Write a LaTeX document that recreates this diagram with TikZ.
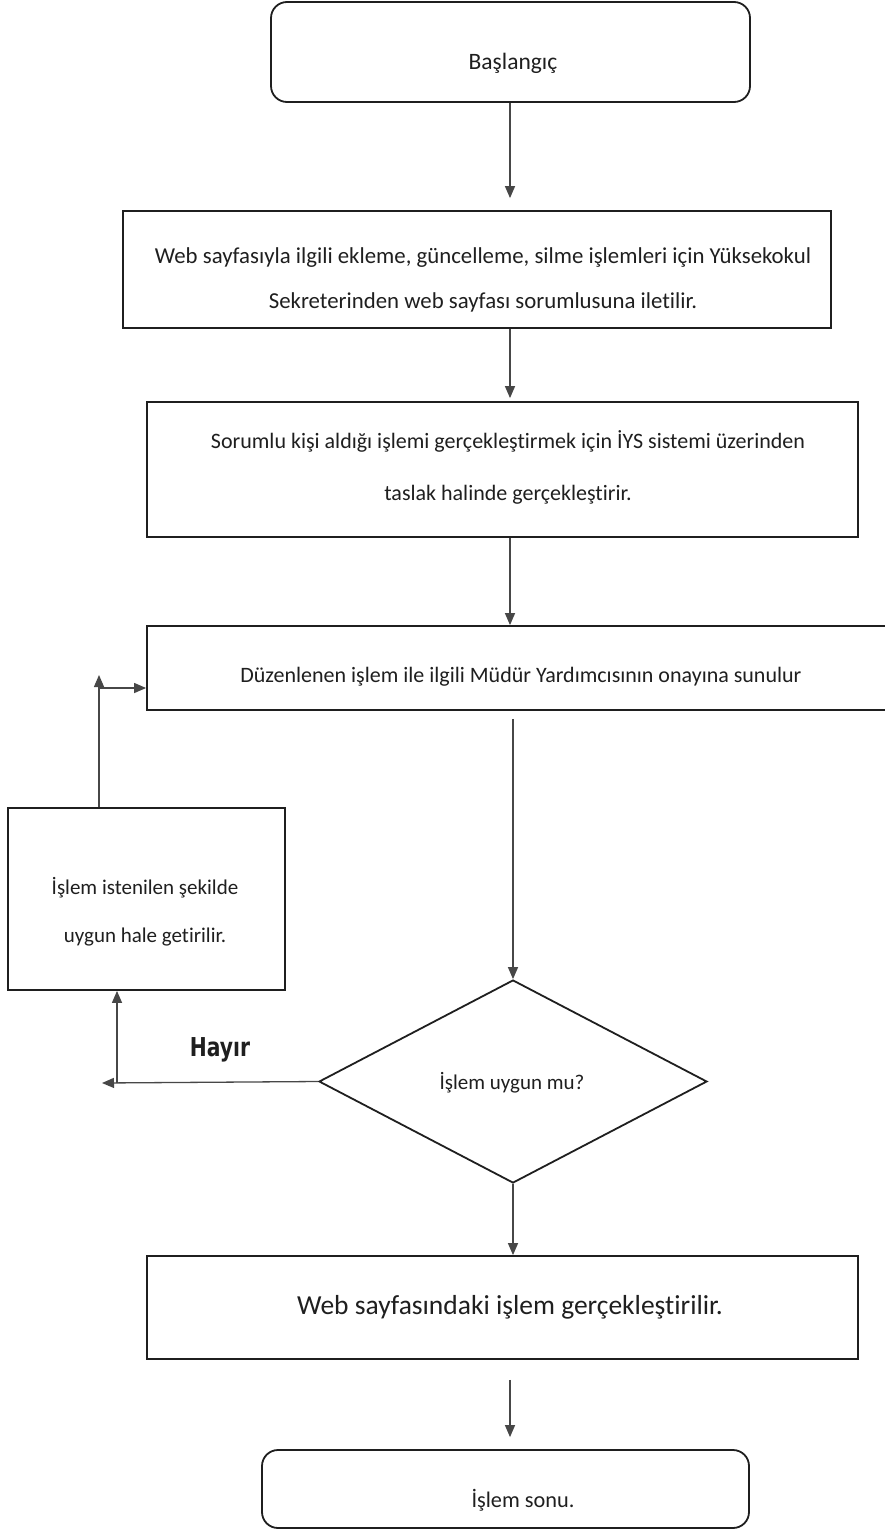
\documentclass[tikz,border=0pt]{standalone}
\usepackage{fontspec}
\setmainfont[RawFeature={-liga;-clig;-dlig}]{Carlito}
\newfontfamily\hayirfont[FakeStretch=0.78]{DejaVu Sans}
\usetikzlibrary{arrows.meta,shapes.geometric}
\definecolor{ink}{gray}{0.12}
\definecolor{wire}{gray}{0.28}
\begin{document}
\begin{tikzpicture}[x=1pt,y=-1pt,
  box/.style={draw=ink, line width=1.8pt, inner sep=0pt, minimum width=#1},
  term/.style={box=#1, rounded corners=16pt},
  txt/.style={inner sep=0pt, align=center, text=ink},
  arr/.style={draw=wire, line width=1.3pt, -{Triangle[width=10pt,length=12pt]}},
  ln/.style={draw=wire, line width=1.3pt}
]
\useasboundingbox (0,0) rectangle (884,1531);
\fill[white] (0,0) rectangle (884,1531);

% boxes
\node[term=479pt, minimum height=100pt] (start) at (510.5,52) {};
\node[box=708pt, minimum height=117pt] (b2) at (477,269.5) {};
\node[box=711pt, minimum height=135pt] (b3) at (502.5,469.5) {};
\node[box=753pt, minimum height=84pt] (b4) at (523.5,668) {};
\node[box=277pt, minimum height=182pt] (b5) at (146.5,899) {};
\node[draw=ink, line width=1.8pt, shape=diamond, inner sep=0pt,
      minimum width=388pt, minimum height=203pt] (dia) at (513,1081.5) {};
\node[box=711pt, minimum height=103pt] (b6) at (502.5,1307.5) {};
\node[term=487pt, minimum height=78pt] (end) at (505.5,1489) {};

% texts
\node[txt, font=\fontsize{23.5}{28}\selectfont] (tstart) at (513,63) {Başlangıç};
\node[txt, font=\fontsize{22.8}{45}\selectfont] (tb2) at (483,280) {Web sayfasıyla ilgili ekleme, güncelleme, silme işlemleri için Yüksekokul\\Sekreterinden web sayfası sorumlusuna iletilir.};
\node[txt, font=\fontsize{22}{52}\selectfont] (tb3) at (508,467) {Sorumlu kişi aldığı işlemi gerçekleştirmek için İYS sistemi üzerinden\\taslak halinde gerçekleştirir.};
\node[txt, font=\fontsize{22}{28}\selectfont] (tb4) at (521,677) {Düzenlenen işlem ile ilgili Müdür Yardımcısının onayına sunulur};
\node[txt, font=\fontsize{21}{48}\selectfont] (tb5) at (145,912) {İşlem istenilen şekilde\\uygun hale getirilir.};
\node[txt, font=\fontsize{21}{26}\selectfont] (tdia) at (512,1083) {İşlem uygun mu?};
\node[txt, font=\fontsize{27.5}{33}\selectfont] (tb6) at (510,1307) {Web sayfasındaki işlem gerçekleştirilir.};
\node[txt, font=\fontsize{22.3}{27}\selectfont] (tend) at (523,1500) {İşlem sonu.};
\node[txt, font=\hayirfont\bfseries\fontsize{26}{30}\selectfont] (hayir) at (220,1050) {Hayır};

% helper coordinates
\coordinate (ax) at (510,0);
\coordinate (hl) at (102,1083);
\coordinate (hj) at (117,1083);
\coordinate (vt) at (99,675);
\coordinate (vj) at (99,688);

% connectors
\draw[arr, shorten >=12pt] (start.south -| ax) -- (b2.north -| ax);
\draw[arr, shorten >=3pt] (b2.south -| ax) -- (b3.north -| ax);
\draw[arr] (b3.south -| ax) -- (b4.north -| ax);
\draw[arr, shorten <=8pt] (b4.south -| dia.north) -- (dia.north);
\draw[arr] (dia.west) -- (hl);
\draw[arr] (hj) -- (b5.south -| hj);
\draw[arr] (b5.north -| vt) -- (vt);
\draw[arr] (vj) -- (b4.west |- vj);
\draw[arr] (dia.south) -- (b6.north -| dia.south);
\draw[arr, shorten <=20pt, shorten >=12pt] (b6.south -| ax) -- (end.north -| ax);
\end{tikzpicture}
\end{document}
